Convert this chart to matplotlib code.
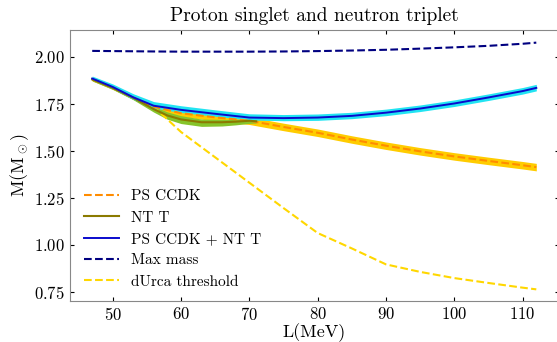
import matplotlib
matplotlib.use("Agg")
import matplotlib.pyplot as plt
import numpy as np

plt.rcParams['font.family'] = 'serif'
plt.rcParams['font.serif'] = ['cmr10', 'DejaVu Serif']
plt.rcParams['mathtext.fontset'] = 'cm'
plt.rcParams['axes.formatter.use_mathtext'] = True

# slope parameter grid (MeV)
L = [47, 50, 53, 56, 60, 65, 70, 75, 80, 85, 90, 95, 100, 105, 110, 112]

# PS CCDK
ps_mass = [1.880, 1.835, 1.783, 1.735, 1.700, 1.678, 1.660, 1.627, 1.596, 1.560,
           1.527, 1.497, 1.470, 1.446, 1.423, 1.413]
ps_hi = [1.888, 1.843, 1.793, 1.750, 1.718, 1.697, 1.680, 1.647, 1.616, 1.580,
         1.547, 1.517, 1.490, 1.466, 1.443, 1.433]
ps_lo = [1.872, 1.827, 1.773, 1.720, 1.682, 1.659, 1.640, 1.607, 1.576, 1.540,
         1.507, 1.477, 1.450, 1.426, 1.403, 1.393]

# NT T
L_nt = [47, 50, 53, 56, 58, 60, 63, 66, 68, 70, 71]
nt_mass = [1.880, 1.835, 1.782, 1.722, 1.688, 1.667, 1.652, 1.652, 1.655, 1.660, 1.657]
nt_hi = [1.888, 1.843, 1.790, 1.737, 1.707, 1.687, 1.669, 1.667, 1.667, 1.670, 1.666]
nt_lo = [1.872, 1.827, 1.772, 1.706, 1.668, 1.645, 1.630, 1.632, 1.638, 1.646, 1.648]

# PS CCDK + NT T
comb_mass = [1.885, 1.840, 1.785, 1.740, 1.718, 1.697, 1.677, 1.674, 1.677, 1.686,
             1.703, 1.725, 1.752, 1.784, 1.818, 1.835]
comb_hi = [1.898, 1.856, 1.804, 1.762, 1.740, 1.718, 1.697, 1.693, 1.696, 1.705,
           1.722, 1.744, 1.771, 1.803, 1.837, 1.854]
comb_lo = [1.876, 1.830, 1.774, 1.728, 1.704, 1.684, 1.664, 1.660, 1.662, 1.671,
           1.687, 1.709, 1.736, 1.768, 1.802, 1.819]

max_mass = [2.032, 2.031, 2.030, 2.029, 2.028, 2.028, 2.028, 2.029, 2.031, 2.034,
            2.038, 2.044, 2.051, 2.059, 2.070, 2.076]
durca = [1.880, 1.835, 1.790, 1.735, 1.600, 1.465, 1.330, 1.195, 1.062, 0.980,
         0.895, 0.855, 0.822, 0.796, 0.771, 0.762]

fig = plt.figure(figsize=(5.57, 3.42), dpi=100)
ax = fig.add_axes([0.1257, 0.1199, 0.877, 0.7933])

ax.fill_between(L, ps_lo, ps_hi, color='#FFCC00', lw=0, zorder=1)
ax.fill_between(L_nt, nt_lo, nt_hi, color='#86C42A', lw=0, zorder=2)
ax.fill_between(L, comb_lo, comb_hi, color='#22E4F2', lw=0, zorder=3)

ax.plot(L, ps_mass, color='darkorange', ls='--', lw=1.5, label='PS CCDK', zorder=4)
ax.plot(L_nt, nt_mass, color='#8B7A00', lw=1.5, label='NT T', zorder=4)
ax.plot(L, comb_mass, color='#0A0ACD', lw=1.4, label='PS CCDK + NT T', zorder=5)
ax.plot(L, max_mass, color='navy', ls='--', lw=1.5, label='Max mass', zorder=5)
ax.plot(L, durca, color='gold', ls='--', lw=1.5, label='dUrca threshold', zorder=2.5)

ax.set_xlim(43.75, 115.25)
ax.set_ylim(0.700, 2.145)
ax.set_xticks([50, 60, 70, 80, 90, 100, 110])
ax.set_yticks([0.75, 1.00, 1.25, 1.50, 1.75, 2.00])
ax.tick_params(direction='in', top=True, right=True, length=3, labelsize=12)
for s in ax.spines.values():
    s.set_color('#888888')

ax.set_xlabel('L(MeV)', fontsize=13, labelpad=0)
ax.set_ylabel(r'M(M$_\odot$)', fontsize=13, labelpad=2.5)
ax.set_title('Proton singlet and neutron triplet', fontsize=14, pad=6)

ax.legend(loc='lower left', frameon=False, fontsize=11, handlelength=2.3,
          labelspacing=0.5, bbox_to_anchor=(0.0, -0.005))

fig.savefig('out.png', dpi=100)
